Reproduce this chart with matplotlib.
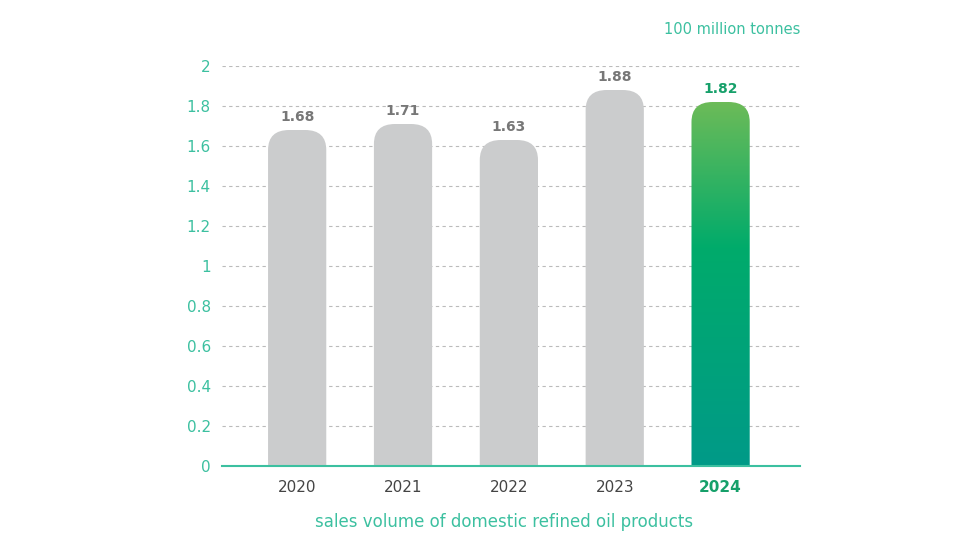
import numpy as np
import matplotlib
matplotlib.use("Agg")
import matplotlib.pyplot as plt
from matplotlib.path import Path
from matplotlib.patches import PathPatch
from matplotlib.colors import LinearSegmentedColormap

years = ["2020", "2021", "2022", "2023", "2024"]
sales = [1.68, 1.71, 1.63, 1.88, 1.82]
yticks = [0, 0.2, 0.4, 0.6, 0.8, 1, 1.2, 1.4, 1.6, 1.8, 2]

teal = "#3cc0a0"
grey_bar = "#cbcccd"
label_grey = "#777777"
green_txt = "#16a06a"

fig = plt.figure(figsize=(9.6, 5.42), dpi=100)
ax = fig.add_axes([222 / 960, 1 - 466 / 542, 578 / 960, 400 / 542])
ax.set_xlim(-0.71, 4.75)
ax.set_ylim(0, 2)

def top_rounded(x, w, h, rx, ry):
    x0, x1 = x - w / 2, x + w / 2
    verts = [(x0, 0), (x0, h - ry), (x0, h), (x0 + rx, h),
             (x1 - rx, h), (x1, h), (x1, h - ry), (x1, 0), (x0, 0)]
    codes = [Path.MOVETO, Path.LINETO, Path.CURVE3, Path.CURVE3,
             Path.LINETO, Path.CURVE3, Path.CURVE3, Path.LINETO, Path.CLOSEPOLY]
    return Path(verts, codes)

w = 0.55
cmap = LinearSegmentedColormap.from_list(
    "g", [(0, "#009a88"), (0.6, "#00ab6b"), (1, "#6cbb58")])
for i, v in enumerate(sales):
    p = top_rounded(i, w, v, 0.2, 0.1)
    last = i == len(sales) - 1
    if last:
        patch = PathPatch(p, facecolor="none", edgecolor="none")
        ax.add_patch(patch)
        grad = np.linspace(0, 1, 256).reshape(-1, 1)
        im = ax.imshow(grad, cmap=cmap, origin="lower", aspect="auto",
                       extent=(i - w / 2, i + w / 2, 0, v), zorder=2)
        im.set_clip_path(patch)
    else:
        ax.add_patch(PathPatch(p, facecolor=grey_bar, edgecolor="none", zorder=2))
    ax.text(i, v + 0.03, f"{v:.2f}", ha="center", va="bottom", fontsize=10,
            fontweight="bold", color=green_txt if last else label_grey)

ax.set_yticks(yticks)
ax.set_yticklabels([f"{t:g}" for t in yticks], color=teal, fontsize=11)
ax.set_xticks(range(len(years)))
ax.set_xticklabels(years, fontsize=11, color="#444444")
ax.get_xticklabels()[-1].set_color(green_txt)
ax.get_xticklabels()[-1].set_fontweight("bold")
ax.tick_params(length=0, pad=10)
ax.tick_params(axis="y", pad=8)
ax.grid(axis="y", linestyle=(0, (3, 3)), color="#bbbbbb", linewidth=0.8, zorder=0)
ax.set_axisbelow(True)
for s in ["top", "right", "left"]:
    ax.spines[s].set_visible(False)
ax.spines["bottom"].set_color(teal)
ax.spines["bottom"].set_linewidth(1.5)
ax.spines["bottom"].set_zorder(3)

fig.text(800 / 960, 1 - 29 / 542, "100 million tonnes", ha="right", va="center",
         color=teal, fontsize=10.5)
fig.text(504 / 960, 1 - 522 / 542, "sales volume of domestic refined oil products",
         ha="center", va="center", color=teal, fontsize=12)

fig.savefig("out.png", dpi=100)
